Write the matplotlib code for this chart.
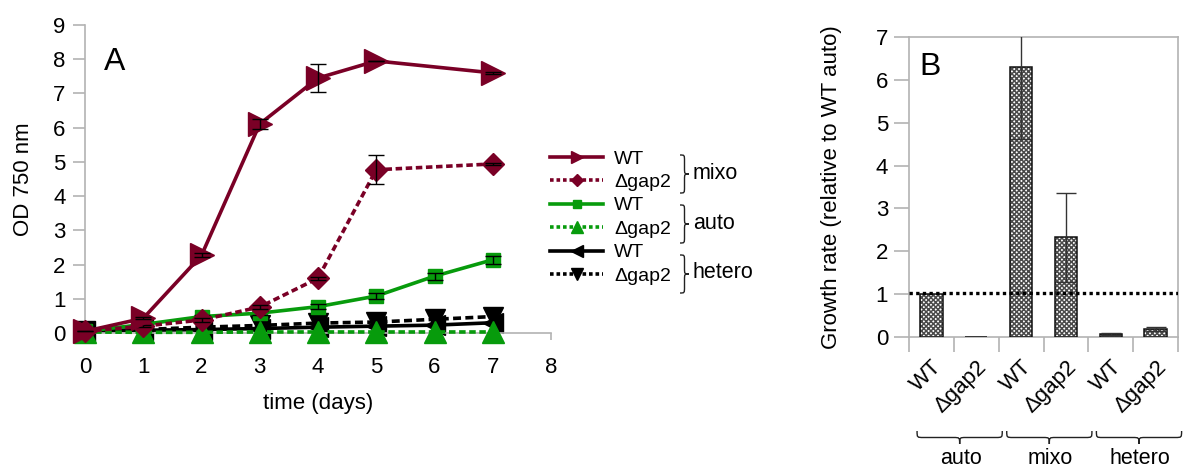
import matplotlib
matplotlib.use("Agg")
import matplotlib.pyplot as plt
from matplotlib.lines import Line2D
from matplotlib.path import Path
from matplotlib.patches import PathPatch
from matplotlib.transforms import Affine2D, blended_transform_factory

plt.rcParams['font.family'] = ['Liberation Sans', 'DejaVu Sans']
plt.rcParams['hatch.linewidth'] = 1.1

# ---- Panel A: growth curves (OD 750 nm) ----
days = [0, 1, 2, 3, 4, 5, 6, 7]
days_mixo = [0, 1, 2, 3, 4, 5, 7]

mixo_wt = [0.05, 0.43, 2.27, 6.11, 7.45, 7.95, 7.60]
mixo_wt_err = [0.0, 0.03, 0.06, 0.15, 0.40, 0.0, 0.02]
mixo_gap2 = [0.05, 0.20, 0.38, 0.76, 1.60, 4.77, 4.94]
mixo_gap2_err = [0.0, 0.02, 0.05, 0.05, 0.05, 0.42, 0.04]

auto_wt = [0.05, 0.25, 0.48, 0.58, 0.77, 1.08, 1.66, 2.14]
auto_wt_err = [0.02, 0.03, 0.05, 0.05, 0.08, 0.10, 0.10, 0.12]
auto_gap2 = [0.03, 0.02, 0.02, 0.03, 0.03, 0.03, 0.03, 0.03]

hetero_wt = [0.05, 0.08, 0.10, 0.13, 0.17, 0.20, 0.23, 0.30]
hetero_gap2 = [0.05, 0.10, 0.17, 0.22, 0.29, 0.32, 0.40, 0.48]

series_labels = ['WT', 'Δgap2', 'WT', 'Δgap2', 'WT', 'Δgap2']
legend_groups = ['mixo', 'auto', 'hetero']

# ---- Panel B: relative growth rates ----
strains = ['WT', 'Δgap2', 'WT', 'Δgap2', 'WT', 'Δgap2']
groups = ['auto', 'mixo', 'hetero']
rates = [1.0, 0.0, 6.31, 2.33, 0.07, 0.19]
rate_err = [0.0, 0.0, 1.70, 1.04, 0.03, 0.04]
reference_rate = 1.02

MAROON = '#7a0026'
GREEN = '#079b0c'
BLACK = '#000000'
GREY = '#b3b3b3'

W, H = 1184, 469
fig = plt.figure(figsize=(W / 100, H / 100), dpi=100)
# pixel coordinates measured from the top-left corner
PIX = Affine2D().scale(1.0 / W, -1.0 / H).translate(0, 1) + fig.transFigure

axA = fig.add_axes([85 / W, 1 - 333 / H, 466 / W, 308 / H])
axB = fig.add_axes([909 / W, 1 - 337 / H, 269 / W, 300 / H])

dash = (0, (1.8, 1.0))
eb = dict(ecolor='black', elinewidth=1.0, capsize=6, capthick=1.0)


def series(x, y, err, color, ls, marker, ms, label, z):
    if err is not None:
        axA.errorbar(x, y, yerr=err, fmt='none', zorder=z + 0.5, clip_on=False, **eb)
    line, = axA.plot(x, y, color=color, ls=ls, lw=2.6, marker=marker, ms=ms,
                     mec=color, mfc=color, label=label, zorder=z, clip_on=False)
    return line


h1 = series(days_mixo, mixo_wt, mixo_wt_err, MAROON, '-', '>', 17, series_labels[0], 6)
h2 = series(days_mixo, mixo_gap2, mixo_gap2_err, MAROON, dash, 'D', 11, series_labels[1], 5)
h3 = series(days, auto_wt, auto_wt_err, GREEN, '-', 's', 10, series_labels[2], 4)
h5 = series(days, hetero_wt, None, BLACK, '-', '<', 15, series_labels[4], 2)
h6 = series(days, hetero_gap2, None, BLACK, (0, (2.2, 1.2)), 'v', 15, series_labels[5], 2.2)
h4 = series(days, auto_gap2, None, GREEN, dash, '^', 16, series_labels[3], 3)

axA.set_xlim(0, 8)
axA.set_ylim(0, 9)
axA.set_xticks(range(0, 9))
axA.set_yticks(range(0, 10))
for s in ['top', 'right']:
    axA.spines[s].set_visible(False)
for s in ['left', 'bottom']:
    axA.spines[s].set_color(GREY)
    axA.spines[s].set_linewidth(1.2)
axA.tick_params(axis='y', length=9, width=1.2, color=GREY, labelsize=16, pad=5)
axA.tick_params(axis='x', length=5, width=1.2, color=GREY, labelsize=16, pad=12)
axA.set_xlabel('time (days)', fontsize=16, labelpad=11)
axA.set_ylabel('OD 750 nm', fontsize=16, labelpad=14)
axA.text(0.04, 0.93, 'A', transform=axA.transAxes, fontsize=23, va='top', ha='left')

# legend
lh = [Line2D([], [], color=h.get_color(), ls=(0, (1.0, 0.8)) if h in (h2, h4, h6) else '-',
             lw=2.6, marker=h.get_marker(), ms=h.get_markersize() * 0.55,
             mfc=h.get_color(), mec=h.get_color()) for h in (h1, h2, h3, h4, h5, h6)]
leg = axA.legend(lh, series_labels, loc='upper left', bbox_to_anchor=(550 / W, 1 - 150 / H),
                 bbox_transform=fig.transFigure, frameon=False, fontsize=14,
                 handlelength=2.75, handletextpad=0.55, labelspacing=0.3,
                 borderpad=0, borderaxespad=0)


def brace(a0, a1, b0, b1, r, vertical, transform):
    mid = 0.5 * (a0 + a1)
    bm = 0.5 * (b0 + b1)
    pts = [(a0, b0), (a0, bm), (a0, bm), (a0 + r, bm),
           (mid - r, bm),
           (mid, bm), (mid, bm), (mid, b1),
           (mid, bm), (mid, bm), (mid + r, bm),
           (a1 - r, bm),
           (a1, bm), (a1, bm), (a1, b0)]
    codes = [Path.MOVETO, Path.CURVE4, Path.CURVE4, Path.CURVE4, Path.LINETO,
             Path.CURVE4, Path.CURVE4, Path.CURVE4,
             Path.CURVE4, Path.CURVE4, Path.CURVE4, Path.LINETO,
             Path.CURVE4, Path.CURVE4, Path.CURVE4]
    if vertical:
        pts = [(b, a) for a, b in pts]
    patch = PathPatch(Path(pts, codes), fill=False, lw=1.0, color='#222222',
                      transform=transform, clip_on=False)
    fig.add_artist(patch)


row_y = [162, 187, 212, 237, 262, 287]
for i, g in enumerate(legend_groups):
    y0, y1 = row_y[2 * i] - 7, row_y[2 * i + 1] + 6
    brace(y0, y1, 680, 689, 6, True, PIX)
    fig.text(693 / W, 1 - (0.5 * (y0 + y1) - 1) / H, g, fontsize=15.5, ha='left', va='center')

# ---- Panel B ----
xpos = [i + 0.5 for i in range(len(rates))]
axB.bar(xpos, rates, width=0.5, color='white', edgecolor='#4a4a4a', hatch='xxxxxxx', lw=0, zorder=2)
axB.bar(xpos, rates, width=0.5, fill=False, edgecolor='#111111', lw=1.1, zorder=3)
axB.errorbar([x for x, e in zip(xpos, rate_err) if e > 0],
             [r for r, e in zip(rates, rate_err) if e > 0],
             yerr=[e for e in rate_err if e > 0], fmt='none', ecolor='#333333',
             elinewidth=1.0, capsize=7, capthick=1.0, zorder=4)
axB.axhline(reference_rate, color='black', ls=(0, (1, 1)), lw=2.4, zorder=5)

axB.set_xlim(0, 6)
axB.set_ylim(0, 7)
axB.set_yticks(range(0, 8))
axB.set_xticks(range(0, 7))
axB.set_xticklabels([])
axB.set_xticks(xpos, minor=True)
axB.set_xticklabels(strains, minor=True, rotation=45, ha='right', va='top',
                    rotation_mode='anchor', fontsize=16)
axB.tick_params(axis='x', which='major', length=11, width=1.2, color=GREY)
axB.tick_params(axis='x', which='minor', length=0, pad=14)
axB.tick_params(axis='y', length=11, width=1.2, color=GREY, labelsize=16, pad=4)
for s in axB.spines.values():
    s.set_color(GREY)
    s.set_linewidth(1.2)
axB.set_ylabel('Growth rate (relative to WT auto)', fontsize=16, labelpad=24)
axB.text(0.04, 0.95, 'B', transform=axB.transAxes, fontsize=23, va='top', ha='left')

BT = blended_transform_factory(axB.transData, PIX)
for i, g in enumerate(groups):
    a0, a1 = 2 * i + 0.18, 2 * i + 2.08
    brace(a0, a1, 431, 444, 0.14, False, BT)
    fig.text(0, 0, g, fontsize=15.5, ha='center', va='center',
             transform=BT).set_position((2 * i + 1.15, 459))

fig.savefig('out.png', dpi=100)
